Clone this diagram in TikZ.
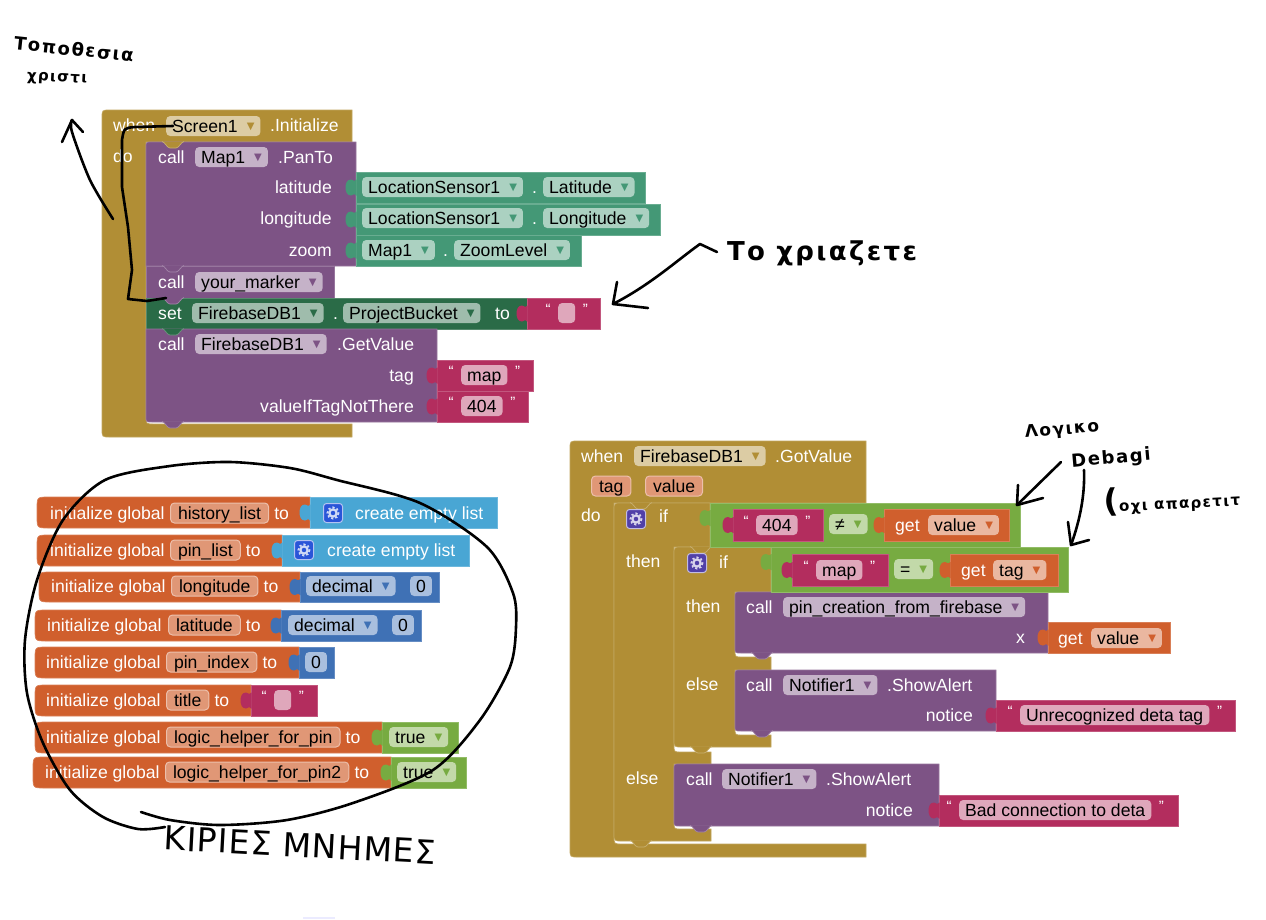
\documentclass[tikz,border=0pt]{standalone}
\usepackage{fontspec}
\setmainfont{Liberation Sans}
\newfontfamily\symfont{DejaVu Sans}
\newfontfamily\handfont[LetterSpace=9]{DejaVu Sans}
\newcommand{\blockfont}{\fontsize{17.6}{19}\selectfont}
\definecolor{bmustard}{HTML}{B18E35}
\definecolor{bpurple}{HTML}{7D5385}
\definecolor{bseagreen}{HTML}{449876}
\definecolor{bdarkgreen}{HTML}{2A6B47}
\definecolor{bmagenta}{HTML}{B32D5E}
\definecolor{borange}{HTML}{D05F2D}
\definecolor{bsky}{HTML}{49A6D4}
\definecolor{bblue}{HTML}{3F71B5}
\definecolor{blime}{HTML}{77AB41}
\definecolor{bindigo}{HTML}{5140A8}
\definecolor{bcobalt}{HTML}{2A55D8}
\colorlet{ddcol}{black}
\tikzset{
	blockbox/.style={fill=#1,draw=#1!80!white,line width=.7pt},
	blocktext/.style={anchor=west,text=white,inner sep=0pt,font=\blockfont,text height=12.5pt,text depth=.5pt},
	righttext/.style={blocktext,anchor=east},
	fieldbox/.style={anchor=west,text=black,inner xsep=6pt,inner ysep=0pt,font=\blockfont,text height=12.5pt,text depth=.5pt,minimum height=20pt,rounded corners=4pt},
	ddfield/.style={fieldbox,fill=#1!45!white,execute at begin node={\colorlet{ddcol}{#1}}},
	varfield/.style={fieldbox,inner xsep=7.5pt,fill=borange!65!white,draw=borange!40!white,line width=1pt},
	strfield/.style={fieldbox,fill=bmagenta!42!white,minimum width=17pt},
	quotemark/.style={anchor=center,text=white,inner sep=0pt,font=\fontsize{15}{15}\selectfont},
	handline/.style={black,line width=2.6pt,line cap=round,line join=round},
	handnote/.style={black,inner sep=0pt,font=\handfont\bfseries\fontsize{18}{19}\selectfont},
}
\newcommand{\dd}{\hspace{9pt}\raisebox{2.5pt}{\textcolor{ddcol}{\symfont\fontsize{10}{10}\selectfont ▼}}\hspace{3pt}}
\newcommand{\puzzletab}[3]{\fill[#3,shift={(#1,#2)}] (.5,8) -- (0,8) .. controls (-2,5) and (-2.5,8) .. (-5,8) .. controls (-9,8) and (-10.5,4) .. (-10.5,0) .. controls (-10.5,-4) and (-9,-8) .. (-5,-8) .. controls (-2.5,-8) and (-2,-5) .. (0,-8) -- (.5,-8) -- cycle;}
\newcommand{\valueblock}[5]{\filldraw[blockbox=#5] (#1,#2) rectangle (#3,#4); \puzzletab{#1}{{(#2+#4)/2}}{#5}}
\newcommand{\stmtbump}[3]{\fill[#3,shift={(#1,#2)}] (16,-.5) .. controls (19,0) and (21,6) .. (24,6) -- (30,6) .. controls (33,6) and (35,0) .. (38,-.5) -- cycle; \draw[#3!70!white,line width=.7pt,shift={(#1,#2)}] (16,-.5) .. controls (19,0) and (21,6) .. (24,6) -- (30,6) .. controls (33,6) and (35,0) .. (38,-.5);}
\newcommand{\callblock}[4]{\filldraw[blockbox=bpurple] (#1+6,#2) -- (#3,#2) -- (#3,#4) -- (#1+6,#4) .. controls (#1,#4) .. (#1,#4-6) -- (#1,#2+6) .. controls (#1,#2) .. (#1+6,#2) -- cycle; \stmtbump{#1}{#4}{bpurple}}
\newcommand{\globalblock}[4]{\filldraw[blockbox=borange] (#3,#2) -- (#1+12,#2) .. controls (#1,#2) .. (#1,#2+12) -- (#1,#4-12) .. controls (#1,#4) .. (#1+12,#4) -- (#3,#4) -- cycle;}
\newcommand{\gearicon}[3]{\filldraw[fill=#3,draw=#3!35!white,line width=1pt,rounded corners=3pt] (#1-9.5,#2-9.5) rectangle (#1+9.5,#2+9.5); \draw[#3!22!white,line width=2.2pt] (#1,#2) circle (3.6); \draw[#3!22!white,line width=1.8pt,dash pattern=on 2.1pt off 2.1pt] (#1,#2) circle (5.6);}
\newcommand{\initrow}[5]{\draw (#2,#3) node[blocktext] (#1Init) {initialize global}; \draw (#4,#3) node[varfield] (#1Name) {#5}; \draw (#1Name.east) ++(5,0) node[blocktext] (#1To) {to};}
\newcommand{\quoted}[4]{\draw (#2,#3) node[strfield] (#1) {#4}; \draw (#1.west) ++(-10,-4) node[quotemark] (#1Open) {“}; \draw (#1.east) ++(10,-4) node[quotemark] (#1Close) {”};}
\begin{document}
\begin{tikzpicture}[x=1pt,y=-1pt]
	\useasboundingbox (0,0) rectangle (1266,919);
	\fill[blue!8] (303,917) rectangle (335,919);

	% screen initialize
	\filldraw[blockbox=bmustard] (102,118) .. controls (102,110) .. (110,110) -- (352,110) -- (352,142) -- (146,142) -- (146,416) .. controls (146,424) .. (154,424) -- (352,424) -- (352,437) -- (110,437) .. controls (102,437) .. (102,429) -- cycle;
	\filldraw[blockbox=bpurple] (152,142) -- (356,142) -- (356,266) -- (146,266) -- (146,148) .. controls (146,142) .. (152,142) -- cycle;
	\filldraw[blockbox=bpurple] (146,266) rectangle (334,298);
	\filldraw[blockbox=bdarkgreen] (146,298) rectangle (527,329);
	\filldraw[blockbox=bpurple] (146,329) -- (437,329) -- (437,422) -- (152,422) .. controls (146,422) .. (146,416) -- cycle;
	\stmtbump{146}{142}{bmustard}
	\stmtbump{146}{266}{bpurple}
	\stmtbump{146}{298}{bpurple}
	\stmtbump{146}{329}{bdarkgreen}
	\stmtbump{146}{422}{bpurple}
	\valueblock{356}{172}{645}{203}{bseagreen}
	\valueblock{356}{204}{660}{235}{bseagreen}
	\valueblock{356}{235}{581}{266}{bseagreen}
	\valueblock{527}{298}{600}{329}{bmagenta}
	\valueblock{437}{360}{533}{391}{bmagenta}
	\valueblock{437}{391}{528}{422}{bmagenta}
	\draw (113,125) node[blocktext] (screenWhen) {when};
	\draw (166,126) node[ddfield=bmustard] (screenName) {Screen1\dd};
	\draw (270,125) node[blocktext] (screenEvent) {.Initialize};
	\draw (113,156) node[blocktext] (screenDo) {do};
	\draw (158,157) node[blocktext] (panCall) {call};
	\draw (195,157) node[ddfield=bpurple] (panMap) {Map1\dd};
	\draw (278,157) node[blocktext] (panTo) {.PanTo};
	\draw (332,187) node[righttext] (panLat) {latitude};
	\draw (332,218) node[righttext] (panLon) {longitude};
	\draw (332,250) node[righttext] (panZoom) {zoom};
	\draw (362,187) node[ddfield=bseagreen] (latSensor) {LocationSensor1\dd};
	\draw (532,187) node[blocktext] (latDot) {.};
	\draw (543,187) node[ddfield=bseagreen] (latProp) {Latitude\dd};
	\draw (362,218) node[ddfield=bseagreen] (lonSensor) {LocationSensor1\dd};
	\draw (532,218) node[blocktext] (lonDot) {.};
	\draw (543,218) node[ddfield=bseagreen] (lonProp) {Longitude\dd};
	\draw (362,250) node[ddfield=bseagreen] (zoomMap) {Map1\dd};
	\draw (443,250) node[blocktext] (zoomDot) {.};
	\draw (454,250) node[ddfield=bseagreen] (zoomProp) {ZoomLevel\dd};
	\draw (158,282) node[blocktext] (markerCall) {call};
	\draw (195,282) node[ddfield=bpurple] (markerName) {your\_marker\dd};
	\draw (158,313) node[blocktext] (bucketSet) {set};
	\draw (192,313) node[ddfield=bdarkgreen] (bucketDb) {FirebaseDB1\dd};
	\draw (333,313) node[blocktext] (bucketDot) {.};
	\draw (343,313) node[ddfield=bdarkgreen] (bucketProp) {ProjectBucket\dd};
	\draw (495,313) node[blocktext] (bucketTo) {to};
	\quoted{bucketStr}{558}{313}{}
	\draw (158,344) node[blocktext] (getCall) {call};
	\draw (195,344) node[ddfield=bpurple] (getDb) {FirebaseDB1\dd};
	\draw (337,344) node[blocktext] (getValue) {.GetValue};
	\draw (414,375) node[righttext] (getTag) {tag};
	\draw (414,406) node[righttext] (getFallback) {valueIfTagNotThere};
	\quoted{tagStr}{461}{375}{map}
	\quoted{fallbackStr}{461}{406}{404}

	% globals
	\globalblock{37}{497}{310}{528}
	\globalblock{37}{535}{282}{566}
	\globalblock{39}{572}{300}{602}
	\globalblock{35}{610}{281}{641}
	\globalblock{35}{647}{299}{678}
	\globalblock{35}{685}{251}{716}
	\globalblock{35}{722}{382}{753}
	\globalblock{33}{757}{391}{788}
	\valueblock{310}{497}{497}{528}{bsky}
	\valueblock{282}{535}{469}{566}{bsky}
	\valueblock{300}{572}{439}{602}{bblue}
	\valueblock{281}{610}{421}{641}{bblue}
	\valueblock{299}{647}{334}{678}{bblue}
	\valueblock{251}{685}{317}{716}{bmagenta}
	\valueblock{382}{722}{458}{753}{blime}
	\valueblock{391}{757}{466}{788}{blime}
	\initrow{history}{50}{513}{170}{history\_list}
	\initrow{pins}{50}{550}{170}{pin\_list}
	\initrow{longitude}{51}{586}{171}{longitude}
	\initrow{latitude}{47}{625}{168}{latitude}
	\initrow{index}{46}{662}{166}{pin\_index}
	\initrow{title}{46}{700}{166}{title}
	\initrow{helper}{46}{737}{166}{logic\_helper\_for\_pin}
	\initrow{helperTwo}{45}{772}{165}{logic\_helper\_for\_pin2}
	\gearicon{333}{513}{bcobalt}
	\gearicon{304}{550}{bcobalt}
	\draw (355,513) node[blocktext] (historyList) {create empty list};
	\draw (327,550) node[blocktext] (pinsList) {create empty list};
	\draw (306,586) node[ddfield=bblue] (longitudeKind) {decimal\dd};
	\draw (410,586) node[ddfield=bblue] (longitudeNum) {0};
	\draw (288,625) node[ddfield=bblue] (latitudeKind) {decimal\dd};
	\draw (392,625) node[ddfield=bblue] (latitudeNum) {0};
	\draw (305,662) node[ddfield=bblue] (indexNum) {0};
	\quoted{titleStr}{274}{700}{}
	\draw (389,737) node[ddfield=blime] (helperFlag) {true\dd};
	\draw (397,772) node[ddfield=blime] (helperTwoFlag) {true\dd};

	% got value
	\filldraw[blockbox=bmustard] (570,449) .. controls (570,441) .. (578,441) -- (866,441) -- (866,503) -- (614,503) -- (614,836) .. controls (614,844) .. (622,844) -- (866,844) -- (866,857) -- (578,857) .. controls (570,857) .. (570,849) -- cycle;
	\filldraw[blockbox=bmustard] (622,503) -- (710,503) -- (710,547) -- (674,547) -- (674,745) .. controls (674,752) .. (681,752) -- (711,752) -- (711,764) -- (674,764) -- (674,822) .. controls (674,829) .. (681,829) -- (711,829) -- (711,841) -- (622,841) .. controls (614,841) .. (614,833) -- (614,511) .. controls (614,503) .. (622,503) -- cycle;
	\filldraw[blockbox=bmustard] (682,547) -- (771,547) -- (771,592) -- (735,592) -- (735,650) .. controls (735,657) .. (742,657) -- (771,657) -- (771,670) -- (735,670) -- (735,728) .. controls (735,735) .. (742,735) -- (771,735) -- (771,747) -- (682,747) .. controls (674,747) .. (674,739) -- (674,555) .. controls (674,547) .. (682,547) -- cycle;
	\stmtbump{614}{503}{bmustard}
	\stmtbump{674}{547}{bmustard}
	\stmtbump{674}{747}{bmustard}
	\stmtbump{614}{841}{bmustard}
	\callblock{735}{592}{1048}{653}
	\callblock{735}{670}{996}{731}
	\callblock{674}{764}{939}{826}
	\filldraw[blockbox=blime] (710,503) rectangle (1020,547);
	\filldraw[blockbox=blime] (771,547) rectangle (1068,592);
	\puzzletab{710}{518}{blime}
	\puzzletab{771}{562}{blime}
	\valueblock{733}{509}{823}{541}{bmagenta}
	\valueblock{884}{509}{1009}{541}{borange}
	\valueblock{792}{554}{888}{586}{bmagenta}
	\valueblock{950}{554}{1058}{586}{borange}
	\valueblock{1048}{622}{1170}{653}{borange}
	\valueblock{996}{700}{1235}{731}{bmagenta}
	\valueblock{939}{795}{1178}{826}{bmagenta}
	\draw (581,456) node[blocktext] (gotWhen) {when};
	\draw (634,456) node[ddfield=bmustard] (gotDb) {FirebaseDB1\dd};
	\draw (775,456) node[blocktext] (gotEvent) {.GotValue};
	\draw (591,486) node[varfield] (gotTag) {tag};
	\draw (645,486) node[varfield] (gotVal) {value};
	\draw (581,515) node[blocktext] (gotDo) {do};
	\gearicon{636}{519}{bindigo}
	\gearicon{697}{563}{bindigo}
	\draw (659,516) node[blocktext] (outerIf) {if};
	\draw (626,561) node[blocktext] (outerThen) {then};
	\draw (719,562) node[blocktext] (innerIf) {if};
	\draw (686,606) node[blocktext] (innerThen) {then};
	\draw (686,684) node[blocktext] (innerElse) {else};
	\draw (626,778) node[blocktext] (outerElse) {else};
	\quoted{notFound}{756}{525}{404}
	\draw (829,524) node[ddfield=blime] (neqOp) {≠\dd};
	\draw (895,525) node[blocktext] (neqGet) {get};
	\draw (928,525) node[ddfield=borange] (neqVar) {value\dd};
	\quoted{mapStr}{816}{570}{map}
	\draw (894,569) node[ddfield=blime] (eqOp) {=\dd};
	\draw (961,570) node[blocktext] (eqGet) {get};
	\draw (993,570) node[ddfield=borange] (eqVar) {tag\dd};
	\draw (746,607) node[blocktext] (pinCall) {call};
	\draw (783,607) node[ddfield=bpurple] (pinProc) {pin\_creation\_from\_firebase\dd};
	\draw (1025,637) node[righttext] (pinArg) {x};
	\draw (1058,638) node[blocktext] (pinGet) {get};
	\draw (1091,638) node[ddfield=borange] (pinVar) {value\dd};
	\draw (746,685) node[blocktext] (alertCall) {call};
	\draw (783,685) node[ddfield=bpurple] (alertName) {Notifier1\dd};
	\draw (887,685) node[blocktext] (alertShow) {.ShowAlert};
	\draw (973,715) node[righttext] (alertNotice) {notice};
	\quoted{alertStr}{1020}{715}{Unrecognized deta tag}
	\draw (686,779) node[blocktext] (badCall) {call};
	\draw (722,779) node[ddfield=bpurple] (badName) {Notifier1\dd};
	\draw (826,779) node[blocktext] (badShow) {.ShowAlert};
	\draw (913,810) node[righttext] (badNotice) {notice};
	\quoted{badStr}{959}{810}{Bad connection to deta}

	% pen notes
	\draw (74,49) node[handnote,rotate=-6] (whereNote) {Τοποθεσια};
	\draw (57,79) node[handnote,rotate=-3,font=\handfont\bfseries\fontsize{15}{16}\selectfont] (whereSub) {χριστι};
	\draw (822,253) node[handnote,font=\handfont\bfseries\fontsize{26}{27}\selectfont] (neededNote) {Το χριαζετε};
	\draw (300,845) node[handnote,rotate=-3,font=\handfont\addfontfeature{LetterSpace=3}\fontsize{33}{34}\selectfont] (memoryNote) {ΚΙΡΙΕΣ ΜΝΗΜΕΣ};
	\draw (1062,430) node[handnote,rotate=5,font=\handfont\bfseries\fontsize{17}{18}\selectfont] (logicNote) {Λογικο};
	\draw (1111,459) node[handnote,rotate=5] (debugNote) {Debagi};
	\draw (1172,499) node[handnote,rotate=3,font=\handfont\bfseries\fontsize{15}{16}\selectfont] (optionalNote) {{\fontsize{32}{32}\selectfont(}οχι απαρετιτ};

	\coordinate (screenTip) at (72,120);
	\coordinate (bucketTip) at (613,304);
	\coordinate (outerTip) at (1017,505);
	\coordinate (innerTip) at (1071,545);
	\draw[handline] plot[smooth] coordinates {(113,219) (90,180) (72,132) (screenTip)};
	\draw[handline] (62,142) -- (screenTip) -- (83,132);
	\draw[handline] (173,126) -- (135,127) .. controls (124,128) .. (122,140) -- (122,187) -- (128,227) -- (132,270) -- (128,299) -- (147,301) -- (166,298);
	\draw[handline] plot[smooth] coordinates {(165,827) (138,829) (103,817) (70,790) (43,743) (27,693) (25,640) (37,580) (63,520) (105,480) (170,466) (230,462) (290,468) (337,480) (420,503) (487,547) (513,593) (516,627) (510,667) (480,720) (433,770) (353,803) (287,820) (220,825) (170,820) (141,812)};
	\draw[handline] (717,252) -- (700,244) .. controls (675,262) and (650,285) .. (bucketTip);
	\draw[handline] (617,282) -- (bucketTip) -- (648,308);
	\draw[handline] (1061,462) -- (outerTip);
	\draw[handline] (1018,485) -- (outerTip) -- (1043,498);
	\draw[handline] (1084,470) .. controls (1085,495) and (1080,520) .. (innerTip);
	\draw[handline] (1068,522) -- (innerTip) -- (1089,540);
\end{tikzpicture}
\end{document}
